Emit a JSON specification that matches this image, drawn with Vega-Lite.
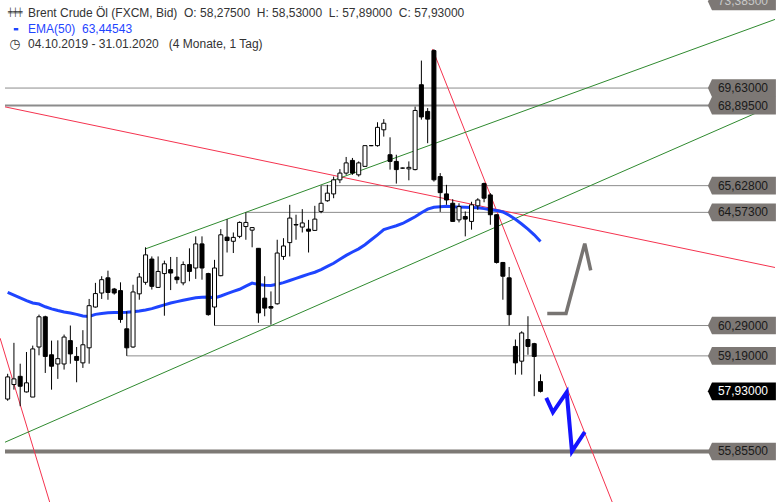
{
  "$schema": "https://vega.github.io/schema/vega-lite/v6.json",
  "width": 780,
  "height": 502,
  "autosize": {"type": "none"},
  "padding": 0,
  "background": "white",
  "config": {"view": {"stroke": null}, "font": "Liberation Sans"},
  "datasets": {
    "candles": [
      {"i":0,"o":57.66,"h":58.55,"l":57.6,"c":58.44,"ema":61.51},
      {"i":1,"o":58.17,"h":59.66,"l":57.99,"c":58.37,"ema":61.41},
      {"i":2,"o":58.46,"h":58.91,"l":57.41,"c":58.11,"ema":61.31},
      {"i":3,"o":57.91,"h":59.33,"l":57.89,"c":58.23,"ema":61.21},
      {"i":4,"o":57.73,"h":59.56,"l":57.73,"c":59.44,"ema":61.12},
      {"i":5,"o":59.51,"h":60.69,"l":59.21,"c":60.61,"ema":61.08},
      {"i":6,"o":60.61,"h":60.65,"l":58.58,"c":59.17,"ema":60.98},
      {"i":7,"o":59.23,"h":59.74,"l":57.99,"c":58.82,"ema":60.9},
      {"i":8,"o":58.9,"h":59.75,"l":58.37,"c":59.09,"ema":60.84},
      {"i":9,"o":58.9,"h":59.96,"l":58.7,"c":59.87,"ema":60.79},
      {"i":10,"o":59.74,"h":60.29,"l":58.91,"c":59.26,"ema":60.75},
      {"i":11,"o":59.17,"h":59.51,"l":58.25,"c":59.03,"ema":60.7},
      {"i":12,"o":58.94,"h":60.12,"l":58.76,"c":59.59,"ema":60.64},
      {"i":13,"o":59.48,"h":61.27,"l":58.91,"c":61.02,"ema":60.62},
      {"i":14,"o":60.97,"h":61.87,"l":60.95,"c":61.47,"ema":60.7},
      {"i":15,"o":61.49,"h":62.12,"l":61.27,"c":61.99,"ema":60.73},
      {"i":16,"o":62.06,"h":62.33,"l":61.24,"c":61.51,"ema":60.76},
      {"i":17,"o":61.64,"h":61.68,"l":61.43,"c":61.49,"ema":60.77},
      {"i":18,"o":61.58,"h":61.89,"l":60.39,"c":60.51,"ema":60.77},
      {"i":19,"o":60.17,"h":60.81,"l":59.19,"c":59.48,"ema":60.78},
      {"i":20,"o":59.51,"h":61.8,"l":59.48,"c":61.53,"ema":60.8},
      {"i":21,"o":61.46,"h":62.24,"l":61.24,"c":62.09,"ema":60.82},
      {"i":22,"o":61.89,"h":63.22,"l":61.8,"c":62.93,"ema":60.86},
      {"i":23,"o":62.77,"h":62.87,"l":61.62,"c":61.74,"ema":60.91},
      {"i":24,"o":61.7,"h":62.87,"l":61.68,"c":62.3,"ema":60.98},
      {"i":25,"o":62.22,"h":62.71,"l":60.65,"c":62.59,"ema":61.05},
      {"i":26,"o":62.37,"h":62.85,"l":61.6,"c":62.24,"ema":61.12},
      {"i":27,"o":62.09,"h":62.85,"l":61.84,"c":61.99,"ema":61.17},
      {"i":28,"o":61.87,"h":62.68,"l":61.78,"c":62.56,"ema":61.22},
      {"i":29,"o":62.56,"h":63.18,"l":61.93,"c":62.3,"ema":61.27},
      {"i":30,"o":62.43,"h":63.64,"l":62.02,"c":63.35,"ema":61.31},
      {"i":31,"o":63.35,"h":63.64,"l":61.99,"c":62.43,"ema":61.33},
      {"i":32,"o":62.22,"h":62.25,"l":60.65,"c":60.69,"ema":61.34},
      {"i":33,"o":60.97,"h":62.74,"l":60.29,"c":62.43,"ema":61.31},
      {"i":34,"o":62.14,"h":63.92,"l":62.12,"c":63.7,"ema":61.38},
      {"i":35,"o":63.61,"h":64.31,"l":63.02,"c":63.48,"ema":61.47},
      {"i":36,"o":63.45,"h":63.79,"l":63.0,"c":63.6,"ema":61.55},
      {"i":37,"o":63.64,"h":64.22,"l":63.57,"c":64.18,"ema":61.63},
      {"i":38,"o":64.02,"h":64.57,"l":63.51,"c":64.18,"ema":61.75},
      {"i":39,"o":63.88,"h":63.99,"l":63.22,"c":63.98,"ema":61.86},
      {"i":40,"o":63.18,"h":63.19,"l":60.39,"c":60.75,"ema":61.81},
      {"i":41,"o":61.3,"h":62.12,"l":60.63,"c":60.93,"ema":61.78},
      {"i":42,"o":60.99,"h":61.55,"l":60.32,"c":60.93,"ema":61.77},
      {"i":43,"o":61.09,"h":63.51,"l":61.06,"c":63.0,"ema":61.82},
      {"i":44,"o":62.87,"h":63.57,"l":62.74,"c":63.27,"ema":61.88},
      {"i":45,"o":63.4,"h":64.87,"l":62.87,"c":64.35,"ema":61.96},
      {"i":46,"o":64.1,"h":64.48,"l":63.51,"c":64.08,"ema":62.04},
      {"i":47,"o":64.0,"h":64.7,"l":63.79,"c":64.16,"ema":62.12},
      {"i":48,"o":63.92,"h":64.28,"l":63.02,"c":63.84,"ema":62.2},
      {"i":49,"o":63.87,"h":64.83,"l":63.87,"c":64.31,"ema":62.27},
      {"i":50,"o":64.61,"h":65.63,"l":64.54,"c":64.93,"ema":62.37},
      {"i":51,"o":65.03,"h":65.66,"l":64.99,"c":65.33,"ema":62.49},
      {"i":52,"o":65.3,"h":65.99,"l":65.13,"c":65.86,"ema":62.61},
      {"i":53,"o":65.86,"h":66.29,"l":65.73,"c":66.13,"ema":62.76},
      {"i":54,"o":66.13,"h":66.78,"l":66.06,"c":66.54,"ema":62.91},
      {"i":55,"o":66.64,"h":66.74,"l":66.06,"c":66.13,"ema":63.04},
      {"i":56,"o":66.06,"h":66.6,"l":65.99,"c":66.54,"ema":63.16},
      {"i":57,"o":66.4,"h":67.24,"l":66.4,"c":67.24,"ema":63.32},
      {"i":58,"o":67.24,"h":67.26,"l":67.22,"c":67.24,"ema":63.51},
      {"i":59,"o":67.24,"h":68.2,"l":67.2,"c":67.99,"ema":63.7},
      {"i":60,"o":67.89,"h":68.33,"l":67.61,"c":68.16,"ema":63.9},
      {"i":61,"o":66.87,"h":67.58,"l":66.27,"c":66.6,"ema":63.98},
      {"i":62,"o":66.6,"h":66.87,"l":65.71,"c":66.27,"ema":64.05},
      {"i":63,"o":66.33,"h":66.35,"l":66.31,"c":66.33,"ema":64.14},
      {"i":64,"o":66.3,"h":66.6,"l":65.84,"c":66.36,"ema":64.27},
      {"i":65,"o":66.27,"h":68.85,"l":66.24,"c":68.69,"ema":64.4},
      {"i":66,"o":69.77,"h":70.8,"l":68.31,"c":68.42,"ema":64.56},
      {"i":67,"o":68.65,"h":68.79,"l":67.34,"c":68.33,"ema":64.7},
      {"i":68,"o":71.23,"h":71.29,"l":65.79,"c":65.86,"ema":64.77},
      {"i":69,"o":65.99,"h":66.13,"l":64.59,"c":65.35,"ema":64.79},
      {"i":70,"o":65.3,"h":65.66,"l":64.87,"c":65.06,"ema":64.81},
      {"i":71,"o":64.93,"h":65.09,"l":64.22,"c":64.22,"ema":64.79},
      {"i":72,"o":64.28,"h":64.93,"l":64.18,"c":64.8,"ema":64.78},
      {"i":73,"o":64.41,"h":64.61,"l":63.64,"c":64.31,"ema":64.77},
      {"i":74,"o":64.22,"h":64.99,"l":63.9,"c":64.87,"ema":64.76},
      {"i":75,"o":64.83,"h":65.13,"l":64.67,"c":65.06,"ema":64.75},
      {"i":76,"o":65.71,"h":65.75,"l":64.97,"c":65.13,"ema":64.72},
      {"i":77,"o":65.26,"h":65.33,"l":64.09,"c":64.48,"ema":64.68},
      {"i":78,"o":64.48,"h":64.5,"l":62.6,"c":62.64,"ema":64.65},
      {"i":79,"o":62.64,"h":62.66,"l":61.24,"c":62.12,"ema":64.59},
      {"i":80,"o":62.06,"h":62.47,"l":60.29,"c":60.69,"ema":64.46},
      {"i":81,"o":59.53,"h":59.78,"l":58.52,"c":58.94,"ema":64.3},
      {"i":82,"o":59.0,"h":60.08,"l":58.52,"c":60.02,"ema":64.12},
      {"i":83,"o":59.78,"h":60.63,"l":59.23,"c":59.53,"ema":63.92},
      {"i":84,"o":59.63,"h":59.66,"l":57.76,"c":59.17,"ema":63.7},
      {"i":85,"o":58.275,"h":58.53,"l":57.89,"c":57.93,"ema":63.44543}
    ],
    "levels": [
      {"v":73.385,"label":"73,38500","kind":"max","from":122.41},
      {"v":69.63,"label":"69,63000","kind":"level","from":-0.425},
      {"v":68.895,"label":"68,89500","kind":"level","from":-0.425},
      {"v":65.628,"label":"65,62800","kind":"level","from":50},
      {"v":64.573,"label":"64,57300","kind":"level","from":38},
      {"v":60.29,"label":"60,29000","kind":"level","from":33},
      {"v":59.19,"label":"59,19000","kind":"level","from":19},
      {"v":57.93,"label":"57,93000","kind":"last","from":122.41},
      {"v":55.855,"label":"55,85500","kind":"level","from":-0.425}
    ],
    "trends": [
      {"line":"Abwärtstrend kurz","i":-1.21,"p":59.83},
      {"line":"Abwärtstrend kurz","i":7.45,"p":53.66},
      {"line":"Abwärtstrend lang","i":-0.425,"p":68.84},
      {"line":"Abwärtstrend lang","i":122.41,"p":62.45},
      {"line":"Abwärtstrend steil","i":67.76,"p":71.3},
      {"line":"Abwärtstrend steil","i":97.21,"p":53.77},
      {"line":"Aufwärtskanal oben","i":21.89,"p":63.15},
      {"line":"Aufwärtskanal oben","i":122.41,"p":72.59},
      {"line":"Aufwärtskanal unten","i":-0.425,"p":56.17},
      {"line":"Aufwärtskanal unten","i":122.41,"p":68.93}
    ],
    "proj": [
      {"szenario":"Erholung","i":86.08,"p":60.73},
      {"szenario":"Erholung","i":89.07,"p":60.73},
      {"szenario":"Erholung","i":92.06,"p":63.36},
      {"szenario":"Erholung","i":93.01,"p":62.34},
      {"szenario":"Abwärts","i":85.92,"p":57.7},
      {"szenario":"Abwärts","i":86.98,"p":57.2},
      {"szenario":"Abwärts","i":89.18,"p":57.9},
      {"szenario":"Abwärts","i":90.02,"p":55.86},
      {"szenario":"Abwärts","i":92.06,"p":56.52}
    ]
  },
  "layer": [
    {
      "data": {"name": "levels"},
      "transform": [{"filter": "datum.kind == 'level'"}],
      "mark": {"type": "rule", "clip": true},
      "encoding": {
        "x": {"field": "from", "type": "quantitative",
              "scale": {"type": "linear", "domain": [-0.425, 122.41], "nice": false, "zero": false},
              "axis": {"orient": "bottom", "offset": -4, "values": [20, 41, 63],
                       "labelExpr": "datum.value == 20 ? 'Nov' : datum.value == 41 ? 'Dez' : 'Jan \\'20'",
                       "tickSize": 4, "tickColor": "#000000", "labelPadding": -6, "labelBaseline": "alphabetic",
                       "labelColor": "#8a8a8a", "labelFontSize": 12, "labelFont": "Liberation Sans",
                       "domain": false, "grid": false, "title": null, "labelOverlap": false, "labelFlush": false, "labelBound": false}},
        "x2": {"datum": 122.41},
        "y": {"field": "v", "type": "quantitative",
              "scale": {"type": "log", "domain": [54.17, 73.45], "nice": false},
              "axis": {"orient": "right", "offset": -4, "values": [56, 58, 60, 62, 64, 66, 68, 70, 72],
                       "labelExpr": "replace(format(datum.value, '.5f'), '.', ',')",
                       "tickSize": 4, "tickColor": "#000000", "labelPadding": -8, "labelAlign": "right", "labelBaseline": "middle",
                       "labelColor": "#9a9a9a", "labelFontSize": 12, "labelFont": "Liberation Sans",
                       "domain": false, "grid": false, "title": null, "labelOverlap": false, "labelFlush": false, "labelBound": false}},
        "stroke": {"condition": {"test": "datum.v < 56", "value": "#7d7975"}, "value": "#8c8c8c"},
        "strokeWidth": {"condition": [{"test": "datum.v < 56", "value": 4}, {"test": "datum.v == 68.895", "value": 2}], "value": 1}
      }
    },
    {
      "data": {"name": "trends"},
      "mark": {"type": "line", "clip": true, "strokeWidth": 1},
      "encoding": {
        "x": {"field": "i", "type": "quantitative", "scale": {"type": "linear", "domain": [-0.425, 122.41], "nice": false, "zero": false}, "axis": null},
        "y": {"field": "p", "type": "quantitative", "scale": {"type": "log", "domain": [54.17, 73.45], "nice": false}, "axis": null},
        "color": {"field": "line", "type": "nominal", "legend": null,
                  "scale": {"domain": ["Abwärtstrend kurz", "Abwärtstrend lang", "Abwärtstrend steil", "Aufwärtskanal oben", "Aufwärtskanal unten"],
                            "range": ["#f5334f", "#f5334f", "#f5334f", "#2f8a2f", "#2f8a2f"]}}
      }
    },
    {
      "data": {"name": "candles"},
      "mark": {"type": "line", "clip": true, "strokeWidth": 3, "color": "#1f45ff"},
      "encoding": {
        "x": {"field": "i", "type": "quantitative", "scale": {"type": "linear", "domain": [-0.425, 122.41], "nice": false, "zero": false}, "axis": null},
        "y": {"field": "ema", "type": "quantitative", "scale": {"type": "log", "domain": [54.17, 73.45], "nice": false}, "axis": null}
      }
    },
    {
      "data": {"name": "candles"},
      "mark": {"type": "rule", "color": "#000000", "strokeWidth": 1},
      "encoding": {
        "x": {"field": "i", "type": "quantitative", "scale": {"type": "linear", "domain": [-0.425, 122.41], "nice": false, "zero": false}, "axis": null},
        "y": {"field": "l", "type": "quantitative", "scale": {"type": "log", "domain": [54.17, 73.45], "nice": false}, "axis": null},
        "y2": {"field": "h"}
      }
    },
    {
      "data": {"name": "candles"},
      "mark": {"type": "bar", "width": 4, "stroke": "#000000", "strokeWidth": 1},
      "encoding": {
        "x": {"field": "i", "type": "quantitative", "scale": {"type": "linear", "domain": [-0.425, 122.41], "nice": false, "zero": false}, "axis": null},
        "y": {"field": "o", "type": "quantitative", "scale": {"type": "log", "domain": [54.17, 73.45], "nice": false}, "axis": null},
        "y2": {"field": "c"},
        "fill": {"condition": {"test": "datum.c < datum.o", "value": "#000000"}, "value": "#ffffff"}
      }
    },
    {
      "data": {"name": "proj"},
      "transform": [{"filter": "datum.szenario == 'Erholung'"}],
      "mark": {"type": "line", "strokeWidth": 3.5, "color": "#777472", "strokeJoin": "miter"},
      "encoding": {
        "x": {"field": "i", "type": "quantitative", "scale": {"type": "linear", "domain": [-0.425, 122.41], "nice": false, "zero": false}, "axis": null},
        "y": {"field": "p", "type": "quantitative", "scale": {"type": "log", "domain": [54.17, 73.45], "nice": false}, "axis": null}
      }
    },
    {
      "data": {"name": "proj"},
      "transform": [{"filter": "datum.szenario == 'Abwärts'"}],
      "mark": {"type": "line", "strokeWidth": 4, "color": "#1414ff", "strokeJoin": "miter"},
      "encoding": {
        "x": {"field": "i", "type": "quantitative", "scale": {"type": "linear", "domain": [-0.425, 122.41], "nice": false, "zero": false}, "axis": null},
        "y": {"field": "p", "type": "quantitative", "scale": {"type": "log", "domain": [54.17, 73.45], "nice": false}, "axis": null}
      }
    },
    {
      "data": {"name": "levels"},
      "mark": {"type": "point", "shape": "M -1 0 L -0.88 -0.26 L 1 -0.26 L 1 0.26 L -0.88 0.26 Z", "size": 4624, "filled": true, "opacity": 1, "strokeWidth": 0},
      "encoding": {
        "x": {"datum": 117.13, "type": "quantitative", "scale": {"type": "linear", "domain": [-0.425, 122.41], "nice": false, "zero": false}, "axis": null},
        "y": {"field": "v", "type": "quantitative", "scale": {"type": "log", "domain": [54.17, 73.45], "nice": false}, "axis": null},
        "fill": {"condition": {"test": "datum.kind == 'last'", "value": "#000000"}, "value": "#7d7875"}
      }
    },
    {
      "data": {"name": "levels"},
      "mark": {"type": "text", "align": "center", "baseline": "middle", "fontSize": 12, "font": "Liberation Sans"},
      "encoding": {
        "x": {"datum": 117.3, "type": "quantitative", "scale": {"type": "linear", "domain": [-0.425, 122.41], "nice": false, "zero": false}, "axis": null},
        "y": {"field": "v", "type": "quantitative", "scale": {"type": "log", "domain": [54.17, 73.45], "nice": false}, "axis": null},
        "text": {"field": "label"},
        "fill": {"condition": [{"test": "datum.kind == 'last'", "value": "#ffffff"}, {"test": "datum.kind == 'max'", "value": "#c8c8c8"}], "value": "#1a1a1a"}
      }
    },
    {
      "data": {"values": [{"t": "Brent Crude Öl (FXCM, Bid)\u00a0\u00a0O: 58,27500\u00a0\u00a0H: 58,53000\u00a0\u00a0L: 57,89000\u00a0\u00a0C: 57,93000"}]},
      "mark": {"type": "text", "align": "left", "baseline": "middle", "fontSize": 12, "font": "Liberation Sans", "color": "#333333"},
      "encoding": {
        "x": {"datum": 3.244, "type": "quantitative", "scale": {"type": "linear", "domain": [-0.425, 122.41], "nice": false, "zero": false}, "axis": null},
        "y": {"datum": 72.86, "type": "quantitative", "scale": {"type": "log", "domain": [54.17, 73.45], "nice": false}, "axis": null},
        "text": {"field": "t"}
      }
    },
    {
      "data": {"values": [{"t": "EMA(50)\u00a0\u00a063,44543"}]},
      "mark": {"type": "text", "align": "left", "baseline": "middle", "fontSize": 12, "font": "Liberation Sans", "color": "#1f45ff"},
      "encoding": {
        "x": {"datum": 3.244, "type": "quantitative", "scale": {"type": "linear", "domain": [-0.425, 122.41], "nice": false, "zero": false}, "axis": null},
        "y": {"datum": 72.16, "type": "quantitative", "scale": {"type": "log", "domain": [54.17, 73.45], "nice": false}, "axis": null},
        "text": {"field": "t"}
      }
    },
    {
      "data": {"values": [{"t": "04.10.2019 - 31.01.2020\u00a0\u00a0\u00a0(4 Monate, 1 Tag)"}]},
      "mark": {"type": "text", "align": "left", "baseline": "middle", "fontSize": 12, "font": "Liberation Sans", "color": "#333333"},
      "encoding": {
        "x": {"datum": 3.244, "type": "quantitative", "scale": {"type": "linear", "domain": [-0.425, 122.41], "nice": false, "zero": false}, "axis": null},
        "y": {"datum": 71.5, "type": "quantitative", "scale": {"type": "log", "domain": [54.17, 73.45], "nice": false}, "axis": null},
        "text": {"field": "t"}
      }
    },
    {
      "data": {"values": [{"t": "╪╪╪"}]},
      "mark": {"type": "text", "align": "center", "baseline": "middle", "fontSize": 8, "font": "DejaVu Sans", "color": "#333333"},
      "encoding": {
        "x": {"datum": 1.22, "type": "quantitative", "scale": {"type": "linear", "domain": [-0.425, 122.41], "nice": false, "zero": false}, "axis": null},
        "y": {"datum": 72.86, "type": "quantitative", "scale": {"type": "log", "domain": [54.17, 73.45], "nice": false}, "axis": null},
        "text": {"field": "t"}
      }
    },
    {
      "data": {"values": [{"t": "EMA"}]},
      "mark": {"type": "point", "shape": "M -1 -0.55 L 1 -0.55 L 1 0.55 L -1 0.55 Z", "size": 20, "filled": true, "opacity": 1, "color": "#1f45ff"},
      "encoding": {
        "x": {"datum": 1.34, "type": "quantitative", "scale": {"type": "linear", "domain": [-0.425, 122.41], "nice": false, "zero": false}, "axis": null},
        "y": {"datum": 72.16, "type": "quantitative", "scale": {"type": "log", "domain": [54.17, 73.45], "nice": false}, "axis": null}
      }
    },
    {
      "data": {"values": [{"t": "◷"}]},
      "mark": {"type": "text", "align": "center", "baseline": "middle", "fontSize": 13, "font": "DejaVu Sans", "color": "#333333"},
      "encoding": {
        "x": {"datum": 1.15, "type": "quantitative", "scale": {"type": "linear", "domain": [-0.425, 122.41], "nice": false, "zero": false}, "axis": null},
        "y": {"datum": 71.5, "type": "quantitative", "scale": {"type": "log", "domain": [54.17, 73.45], "nice": false}, "axis": null},
        "text": {"field": "t"}
      }
    }
  ]
}
